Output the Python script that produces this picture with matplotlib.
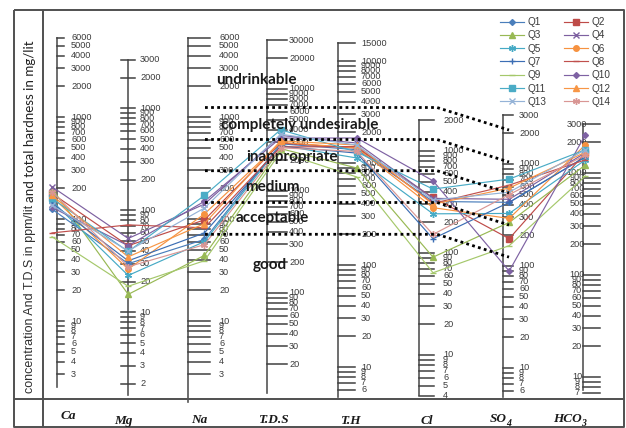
import numpy as np
import matplotlib
matplotlib.use('Agg')
import matplotlib.pyplot as plt

# ---------------- data (mg/l) ----------------
params = ['Ca', 'Mg', 'Na', 'T.D.S', 'T.H', 'Cl', 'SO4', 'HCO3']
series = ['Q1', 'Q2', 'Q3', 'Q4', 'Q5', 'Q6', 'Q7', 'Q8', 'Q9', 'Q10', 'Q11', 'Q12', 'Q13', 'Q14']

ca   = [125, 178, 199, 207, 150, 166, 143, 73, 67, 130, 159, 170, 136, 185]
mg   = [30, 45, 15, 53, 23, 26.5, 32, 72, 18, 45, 39.5, 35, 40, 28]
na   = [63, 98, 44, 140, 60, 112, 73, 82, 39, 149, 170, 90, 128, 56]
tds  = [2900, 2950, 2600, 3500, 2800, 3000, 2750, 2700, 2400, 3300, 3980, 3100, 3600, 2650]
th   = [1350, 1400, 893, 1570, 1120, 1403, 1250, 1450, 729, 1758, 1282, 1500, 1500, 1300]
cl   = [320, 350, 91, 343, 242, 278, 138, 306, 64, 510, 423, 300, 330, 152]
so4  = [420, 185, 267, 450, 327, 292, 420, 620, 158, 89, 710, 580, 528, 500]
hco3 = [1440, 1580, 1200, 1580, 1345, 1890, 1440, 1345, 935, 2375, 1690, 1600, 1690, 1500]

# water-quality class boundaries: level on T.H scale and on SO4 scale
class_th  = [3500, 1700, 840, 410, 200]
class_so4 = [2150, 1045, 519, 252, 122]
class_names = ['undrinkable', 'completely undesirable', 'inappropriate', 'medium', 'acceptable', 'good']

# ---------------- styling / layout ----------------
W, H = 626, 428
K = 102.0                # pixels per decade on the common log axis
Y0 = 423.0               # pixel row of u = 1
col_shift = [0.0, 0.085, 0.0, -0.725, -0.451, -0.333, -0.46, -0.549]  # log10 shift of each column scale
cat_x0, cat_dx = 52.0, 76.2

colors = ['#4A7EBB', '#BE4B48', '#98B954', '#7D60A0', '#46AAC5', '#F69240', '#3C6EB4',
          '#C0504D', '#A5C86B', '#7E62A3', '#4BACC6', '#F79646', '#95B3D7', '#D99694']
ast = (6, 2, 0)
markers = ['D', 's', '^', 'x', ast, 'o', '+', '_', '_', 'D', 's', '^', 'x', ast]
msizes  = [3, 4, 4, 4, 5, 4, 5, 4, 4, 3, 4, 4, 4, 5]

fig = plt.figure(figsize=(W / 100, H / 100), dpi=100)
ax = fig.add_axes([0, 0, 1, 1])
ax.set_xlim(0, W)
ax.set_yscale('log')
ax.set_ylim(10 ** ((Y0 - H) / K), 10 ** (Y0 / K))
ax.axis('off')


def U(col, v):
    """value of column -> position on the common log axis"""
    return np.asarray(v, dtype=float) * 10 ** col_shift[col]


def P(x, y):
    """pixel -> axes fraction (for decorations)"""
    return (x / W, 1 - y / H)


def pu(y):
    return 10 ** ((Y0 - y) / K)


TR = ax.transAxes
dark = '#3a3a3a'

# ---------------- frame ----------------
fk = dict(color='#505050', lw=1.4, transform=TR, zorder=1, solid_capstyle='butt')
ax.plot(*zip(P(14, 9.5), P(623.5, 9.5), P(623.5, 427), P(14, 427), P(14, 9.5)), **fk)
ax.plot(*zip(P(43, 9.5), P(43, 427)), **fk)
ax.plot(*zip(P(14, 399), P(623.5, 399)), **fk)

# ---------------- column scales ----------------
def ticks(lo, hi, extra=()):
    out = []
    for e in range(0, 6):
        for m in range(1, 10):
            v = m * 10 ** e
            if lo <= v <= hi:
                out.append(v)
    return sorted(set(out) | set(extra))

scales = [
    # x, mode, length, label x, ha, lo, hi, extra, bottom px
    (57, 'r', 7, 71, 'left', 3, 6000, (), 387),
    (128, 'b', 7, 140, 'left', 2, 3000, (), 395),
    (188, 'r', 22, 219, 'left', 3, 6000, (), 402),
    (267, 'r', 20, 289, 'left', 20, 30000, (), 393),
    (338, 'r', 17, 361, 'left', 6, 10000, (15000,), 397),
    (419, 'r', 15, 443, 'left', 4, 2000, (), 395),
    (503, 'r', 10, 519, 'left', 6, 3000, (), 397),
    (583, 'r', 17, 577, 'center', 7, 3000, (), 390),
]
lab_font = dict(family='Liberation Sans', fontsize=6.6, color=dark)
for ci, (x, mode, ln, lx, ha, lo, hi, extra, bot) in enumerate(scales):
    tv = ticks(lo, hi, extra)
    top = U(ci, max(tv))
    ax.plot([x, x], [top, pu(bot)], color='#555555', lw=1.2, zorder=2)
    for v in tv:
        u = U(ci, v)
        if mode == 'b':
            ax.plot([x - ln, x + ln], [u, u], color='#404040', lw=1.1, zorder=2)
        else:
            ax.plot([x, x + ln], [u, u], color='#404040', lw=1.1, zorder=2)
        ax.text(lx, u, f'{v:g}', ha=ha, va='center', zorder=2, **lab_font)

# ---------------- data lines ----------------
cols = [ca, mg, na, tds, th, cl, so4, hco3]
xs = [cat_x0 + cat_dx * i for i in range(len(params))]
handles = []
for si, name in enumerate(series):
    ys = [U(ci, cols[ci][si]) for ci in range(len(params))]
    ln, = ax.plot(xs, ys, color=colors[si], lw=0.85, marker=markers[si], ms=msizes[si],
                  mfc=colors[si], mec=colors[si], mew=1.0, zorder=3, label=name)
    handles.append(ln)

# ---------------- class boundaries ----------------
for tv, sv in zip(class_th, class_so4):
    ut = U(4, tv)
    us = U(6, sv)
    ax.plot([205, 437, 509], [ut, ut, us], color='black', lw=2.0,
            linestyle=(0, (1, 1.2)), zorder=4)

zone_pos = [(256, 80), (300, 125), (292, 157), (272, 187), (272, 218), (270, 265)]
for name, (zx, zy) in zip(class_names, zone_pos):
    ax.text(*P(zx, zy), name, transform=TR, ha='center', va='center', fontsize=11,
            family='Lato', fontweight='bold', color='#1a1a1a', zorder=5)

# ---------------- column names ----------------
cn_font = dict(family='Liberation Serif', fontsize=9.5, fontweight='bold', fontstyle='italic',
               color='#1a1a1a', transform=TR, va='center')
name_pos = [(68, 416), (123, 421), (199, 420), (273, 420), (350, 421), (427, 421), (503, 419), (578, 419)]
for pi, (nx, ny) in enumerate(name_pos):
    p = params[pi]
    if p in ('SO4', 'HCO3'):
        base = p[:-1]
        ax.text(*P(nx + 4, ny), base, ha='right', **cn_font)
        f2 = dict(cn_font)
        f2['fontsize'] = 7
        ax.text(*P(nx + 3.5, ny + 4), p[-1], ha='left', **f2)
    else:
        ax.text(*P(nx, ny), p, ha='center', **cn_font)

# ---------------- y label ----------------
t1 = ax.text(*P(30, 393), 'concentration And T.D.S in ppm/lit', transform=TR, rotation=90,
             ha='center', va='bottom', family='Liberation Sans', fontsize=9.0, color='#303030')
fig.canvas.draw()
bb = t1.get_window_extent()
top_px = H - bb.y1
ax.text(*P(30, top_px - 3), 'and total hardness in mg/lit', transform=TR, rotation=90,
        ha='center', va='bottom', family='Lato', fontsize=9.6, color='#202020')

# ---------------- legend ----------------
order = list(range(0, 14, 2)) + list(range(1, 14, 2))
leg = ax.legend([handles[i] for i in order], [series[i] for i in order], ncol=2,
                loc='upper left', bbox_to_anchor=P(500, 17), frameon=False,
                prop={'family': 'Liberation Sans', 'size': 7.2}, handlelength=2.4,
                handletextpad=0.4, columnspacing=1.7, labelspacing=0.33,
                borderpad=0, borderaxespad=0)
for t in leg.get_texts():
    t.set_color(dark)

fig.savefig('out.png', dpi=100)
